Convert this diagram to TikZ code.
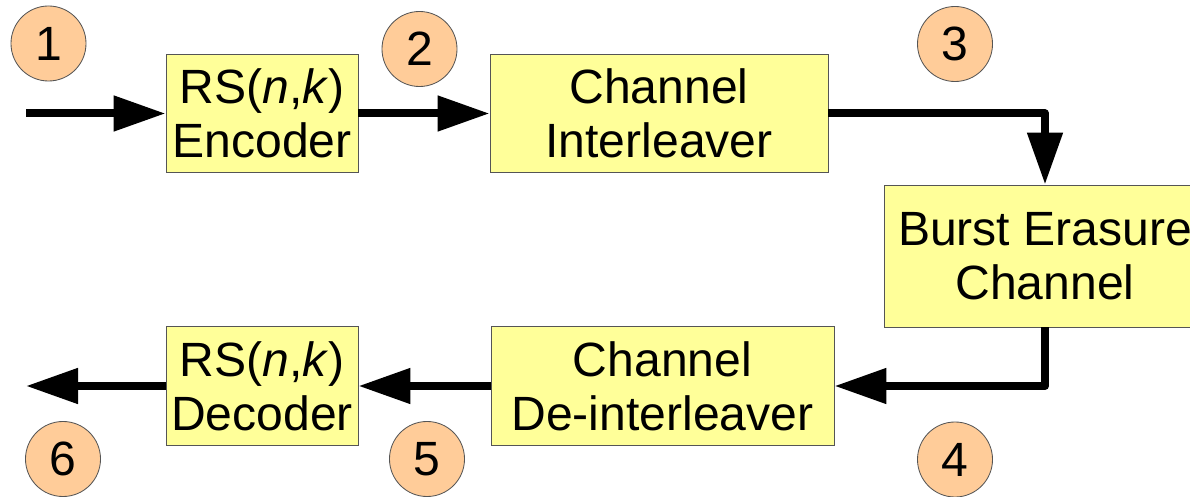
\documentclass[tikz,border=0pt]{standalone}
\usepackage{fontspec}
\setmainfont{Liberation Sans}
\usetikzlibrary{arrows.meta}
\definecolor{ink}{HTML}{000000}
\definecolor{edge}{HTML}{555555}
\definecolor{blockfill}{HTML}{FFFF99}
\definecolor{tagfill}{HTML}{FFCC99}
\newcommand{\BW}{4.8cm}   % width of the RS blocks
\newcommand{\BH}{2.96cm}  % height of the two block rows

\begin{document}
\begin{tikzpicture}[x=0.025cm,y=-0.025cm,
  font=\fontsize{34.2}{38.4}\selectfont,
  >={Triangle[length=1.3cm,width=0.85cm]},
  block/.style={draw=edge,line width=0.6pt,fill=blockfill,text=ink,align=center,inner sep=0pt},
  tag/.style={circle,draw=edge,line width=0.6pt,fill=tagfill,text=ink,minimum size=1.875cm,inner sep=0pt},
  flow/.style={->,draw=ink,line width=0.2cm,line join=round}]

\useasboundingbox (0,0) rectangle (1190,497);

% ---------------- top row: encoder side -----------------------------------
\node[block,minimum width=\BW,minimum height=\BH] (enc) at (262,113.5) {RS(\textit{n},\textit{k})\\Encoder};
\node[block,minimum width=8.45cm,minimum height=\BH] (ilv) at (659,113.5) {Channel\\Interleaver};

% ---------------- channel ---------------------------------------------------
\node[block,minimum width=8.05cm,minimum height=3.55cm] (bec) at (1045,256) {Burst Erasure\\Channel};

% ---------------- bottom row: decoder side --------------------------------
\node[block,minimum width=8.575cm,minimum height=\BH] (dilv) at (662.5,386) {Channel\\De-interleaver};
\node[block,minimum width=\BW,minimum height=\BH] (dec) at (262,386) {RS(\textit{n},\textit{k})\\Decoder};

% ---------------- signal path ---------------------------------------------
\coordinate (src) at (26,113.5);
\coordinate (snk) at (26,386);
\draw[flow] (src) -- (enc.west);
\draw[flow] (enc.east) -- (ilv.west);
\draw[flow] (ilv.east) -| (bec.north);
\draw[flow] (bec.south) |- (dilv.east);
\draw[flow] (dilv.west) -- (dec.east);
\draw[flow] (dec.west) -- (snk);

% ---------------- numbered tap points -------------------------------------
\node[tag] (t1) at (48.5,43.5) {1};
\node[tag] (t2) at (419.5,49) {2};
\node[tag] (t3) at (955,44) {3};
\node[tag] (t4) at (955,459.5) {4};
\node[tag] (t5) at (427,459) {5};
\node[tag] (t6) at (63,459) {6};

\end{tikzpicture}
\end{document}
